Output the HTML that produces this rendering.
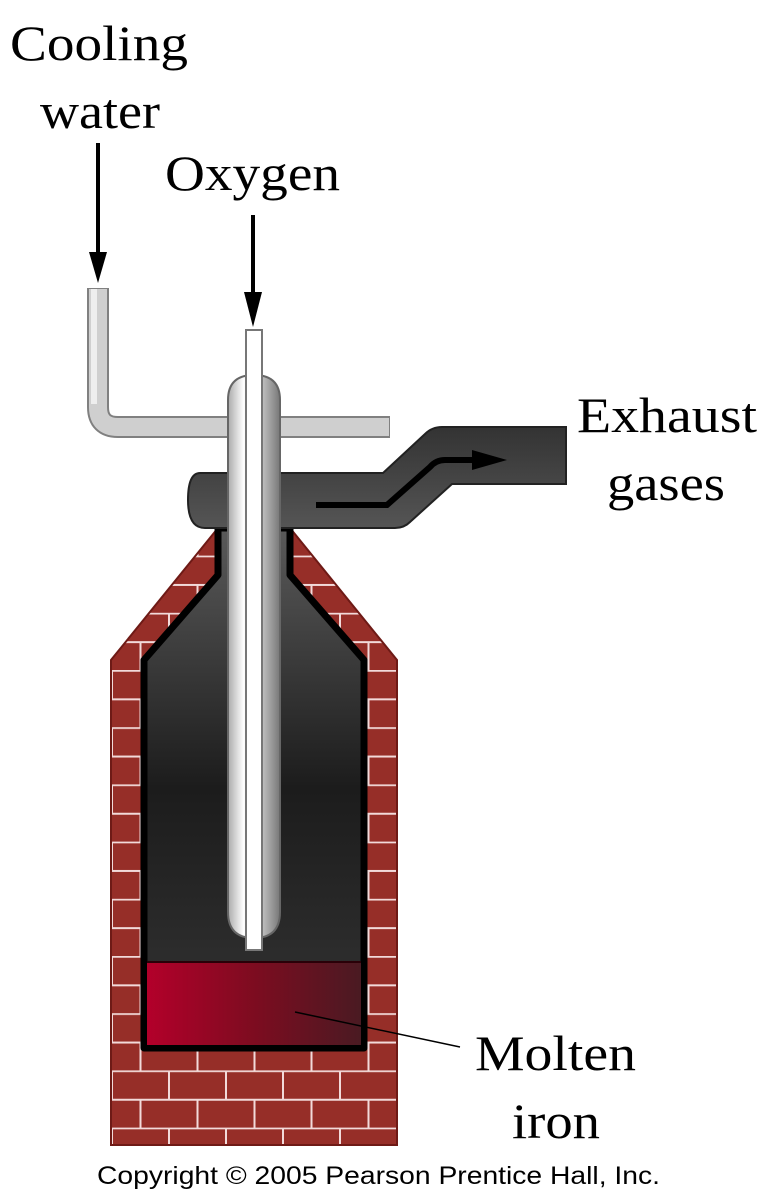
<!DOCTYPE html>
<html><head><style>
body{margin:0;background:#fff;width:767px;height:1200px;overflow:hidden}
svg{display:block}
</style></head><body>
<svg width="767" height="1200" viewBox="0 0 767 1200">
<defs>
<pattern id="brick" x="111" y="670" width="57" height="57.2" patternUnits="userSpaceOnUse">
<rect width="57" height="57.2" fill="#962e28"/>
<path d="M0 0.8H57M0 29.4H57M1 0V28.6M29.5 28.6V57.2" stroke="#f2dada" stroke-width="2"/>
</pattern>
<linearGradient id="cham" x1="0" y1="0" x2="0" y2="1">
<stop offset="0" stop-color="#5a5a5a"/><stop offset="0.5" stop-color="#1c1c1c"/><stop offset="1" stop-color="#353535"/>
</linearGradient>
<linearGradient id="iron" x1="0" y1="0" x2="1" y2="0">
<stop offset="0" stop-color="#b3002a"/><stop offset="0.5" stop-color="#7d0c20"/><stop offset="1" stop-color="#4a1a22"/>
</linearGradient>
<linearGradient id="tube" x1="0" y1="0" x2="1" y2="0">
<stop offset="0" stop-color="#aaa"/><stop offset="0.3" stop-color="#fff"/><stop offset="0.6" stop-color="#ccc"/><stop offset="1" stop-color="#777"/>
</linearGradient>
<linearGradient id="exh" x1="0" y1="0" x2="0" y2="1">
<stop offset="0" stop-color="#333"/><stop offset="1" stop-color="#555"/>
</linearGradient>
</defs>
<!-- brick wall -->
<path d="M218 528 L111 660 L111 1145 L397 1145 L397 660 L290 528 Z" fill="url(#brick)" stroke="#6e1a16" stroke-width="2"/>
<!-- chamber -->
<path d="M218 528 L218 575 L144 660 L144 1048 L364 1048 L364 660 L290 575 L290 528 Z" fill="url(#cham)" stroke="#000" stroke-width="7" stroke-linejoin="round"/>
<rect x="147" y="962" width="214" height="83" fill="url(#iron)"/>
<line x1="147" y1="962" x2="361" y2="962" stroke="#2a0008" stroke-width="2"/>
<!-- exhaust -->
<path d="M200 473 L383 473 L425 434 Q432 427 442 427 L566 427 L566 484 L452 484 L410 522 Q404 528 395 528 L205 528 Q188 528 188 500 Q188 473 200 473 Z" fill="url(#exh)" stroke="#222" stroke-width="2"/>
<path d="M316 505 L387 505 L430 467 Q436 460 445 460 L478 460" fill="none" stroke="#000" stroke-width="6"/>
<polygon points="472,450 507,460 472,470" fill="#000"/>
<!-- cooling pipe -->
<path d="M98 288 L98 407 Q98 427 118 427 L390 427" fill="none" stroke="#808080" stroke-width="22"/>
<path d="M98 289 L98 407 Q98 427 118 427 L389 427" fill="none" stroke="#cfcfcf" stroke-width="18"/>
<rect x="91" y="289" width="6" height="115" fill="#eee"/>
<!-- lance -->
<path d="M228 400 Q228 375 254 375 Q280 375 280 400 L280 912 Q280 938 254 938 Q228 938 228 912 Z" fill="url(#tube)" stroke="#666" stroke-width="2"/>
<rect x="246" y="330" width="16" height="620" fill="#fff" stroke="#777" stroke-width="2"/>
<!-- arrows -->
<line x1="98" y1="143" x2="98" y2="255" stroke="#000" stroke-width="4"/>
<polygon points="89,252 107,252 98,283" fill="#000"/>
<line x1="253" y1="215" x2="253" y2="295" stroke="#000" stroke-width="4"/>
<polygon points="244,292 262,292 253,327" fill="#000"/>
<line x1="295" y1="1012" x2="460" y2="1047" stroke="#000" stroke-width="1.5"/>
<g font-family="Liberation Serif, serif" font-size="50" fill="#000" lengthAdjust="spacingAndGlyphs">
<text x="10" y="60" textLength="178" lengthAdjust="spacingAndGlyphs">Cooling</text>
<text x="40" y="128" textLength="120" lengthAdjust="spacingAndGlyphs">water</text>
<text x="165" y="190" textLength="175" lengthAdjust="spacingAndGlyphs">Oxygen</text>
<text x="577" y="432" textLength="180" lengthAdjust="spacingAndGlyphs">Exhaust</text>
<text x="607" y="500" textLength="118" lengthAdjust="spacingAndGlyphs">gases</text>
<text x="475" y="1070" textLength="161" lengthAdjust="spacingAndGlyphs">Molten</text>
<text x="512" y="1138" textLength="88" lengthAdjust="spacingAndGlyphs">iron</text>
</g>
<text x="97" y="1184" font-family="Liberation Sans, sans-serif" font-size="25" fill="#000" textLength="563" lengthAdjust="spacingAndGlyphs">Copyright © 2005 Pearson Prentice Hall, Inc.</text>
</svg>
</body></html>
